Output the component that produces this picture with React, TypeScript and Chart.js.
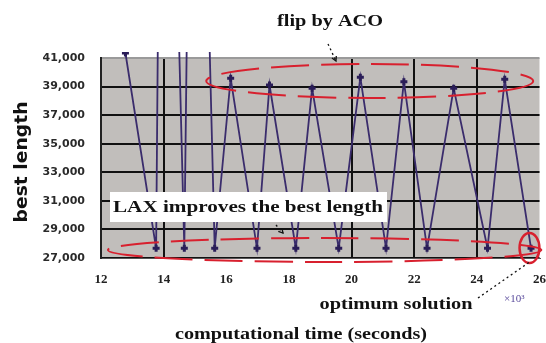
import React, { useEffect, useRef } from 'react';
import { Chart, registerables } from 'chart.js';

Chart.register(...registerables);

// computational time (x10^3 seconds) and best tour length
const timeK = [12.78, 13.76, 13.98, 14.66, 14.97, 15.63, 16.14, 16.98, 17.38, 18.22, 18.74, 19.59, 20.28, 21.1, 21.67, 22.41, 23.26, 24.34, 24.89, 25.73];
const bestLength = [41350, 27680, 86000, 27680, 85000, 27680, 39580, 27680, 39110, 27680, 38880, 27680, 39650, 27680, 39340, 27680, 38880, 27680, 39510, 27680];

const xTickValues = [12, 14, 16, 18, 20, 22, 24, 26];
const yTickValues = [27000, 29000, 31000, 33000, 35000, 37000, 39000, 41000];
const xGridShown = [14, 20, 22, 24];

const titleTop = 'flip by ACO';
const titleBox = 'LAX improves the best length';
const titleOpt = 'optimum solution';
const xTitle = 'computational time (seconds)';
const yTitle = 'best length';
const xUnit = '\u00d710\u00b3';

const RED = '#d8202e';
const LINE = '#3a2c6c';

function fitText(ctx: CanvasRenderingContext2D, text: string, cx: number, cy: number, width: number, font: string, color: string, rot = 0) {
  ctx.save();
  ctx.font = font;
  const w = ctx.measureText(text).width;
  ctx.translate(cx, cy);
  if (rot) ctx.rotate(rot);
  ctx.scale(width / w, 1);
  ctx.textAlign = 'center';
  ctx.textBaseline = 'middle';
  ctx.fillStyle = color;
  ctx.fillText(text, 0, 0);
  ctx.restore();
}

function dottedArrow(ctx: CanvasRenderingContext2D, x1: number, y1: number, x2: number, y2: number, head: number) {
  ctx.save();
  ctx.strokeStyle = '#111';
  ctx.lineWidth = 1.3;
  ctx.setLineDash([2, 3]);
  ctx.beginPath();
  ctx.moveTo(x1, y1);
  ctx.lineTo(x2, y2);
  ctx.stroke();
  ctx.setLineDash([]);
  if (head > 0) {
    const a = Math.atan2(y2 - y1, x2 - x1);
    ctx.beginPath();
    ctx.moveTo(x2 - head * Math.cos(a - 0.5), y2 - head * Math.sin(a - 0.5));
    ctx.lineTo(x2, y2);
    ctx.lineTo(x2 - head * Math.cos(a + 0.5), y2 - head * Math.sin(a + 0.5));
    ctx.stroke();
  }
  ctx.restore();
}

const bgPlugin = {
  id: 'plotBg',
  beforeDraw(chart: any) {
    const { ctx, chartArea: a } = chart;
    ctx.save();
    ctx.fillStyle = '#c1bebb';
    ctx.fillRect(a.left, a.top, a.right - a.left, a.bottom - a.top);
    ctx.restore();
  },
};

const annPlugin = {
  id: 'annotations',
  afterDraw(chart: any) {
    const { ctx } = chart;
    const xs = chart.scales.x;
    const ys = chart.scales.y;
    const px = (v: number) => xs.getPixelForValue(v);
    const py = (v: number) => ys.getPixelForValue(v);

    const ellipse = (cx: number, cy: number, rx: number, ry: number, dash: number[], lw: number) => {
      const X = px(cx), Y = py(cy);
      const RX = Math.abs(px(cx + rx) - X), RY = Math.abs(py(cy + ry) - Y);
      ctx.save();
      ctx.strokeStyle = RED;
      ctx.lineWidth = lw;
      ctx.setLineDash(dash);
      ctx.beginPath();
      ctx.ellipse(X, Y, RX, RY, 0, 0, Math.PI * 2);
      ctx.stroke();
      ctx.restore();
    };

    // dashed ellipses around peaks and troughs
    ellipse(20.58, 39390, 5.22, 1190, [38, 12], 2);
    ellipse(19.14, 27560, 6.92, 840, [38, 12], 2);

    // white label box
    ctx.save();
    ctx.fillStyle = '#ffffff';
    ctx.fillRect(110, 192, 277, 30);
    ctx.restore();
    fitText(ctx, titleBox, 248, 208, 270, 'bold 17px "Liberation Serif"', '#111');

    // top label
    fitText(ctx, titleTop, 330, 22, 106, 'bold 16px "Liberation Serif"', '#111');
    dottedArrow(ctx, 328, 44, 336, 61, 5);
    dottedArrow(ctx, 276, 225, 283, 233, 5);

    // optimum solution
    ellipse(25.68, 27700, 0.317, 1050, [], 2.5);
    fitText(ctx, titleOpt, 396, 305, 153, 'bold 16px "Liberation Serif"', '#111');
    dottedArrow(ctx, 478, 298, 531, 261, 0);
    ctx.save();
    ctx.font = '11px "Liberation Serif"';
    ctx.fillStyle = '#5a4b9c';
    ctx.textAlign = 'left';
    ctx.textBaseline = 'middle';
    ctx.fillText(xUnit, 504, 299);
    ctx.restore();

    // axis titles
    fitText(ctx, xTitle, 301, 335, 252, 'bold 17px "Liberation Serif"', '#111');
    fitText(ctx, yTitle, 23, 162, 121, 'bold 17px "DejaVu Sans"', '#111', -Math.PI / 2);
  },
};

export default function App() {
  const ref = useRef<HTMLCanvasElement | null>(null);
  useEffect(() => {
    if (!ref.current) return;
    const chart = new Chart(ref.current, {
      type: 'line',
      data: {
        datasets: [
          {
            label: 'best length',
            data: timeK.map((t, i) => ({ x: t, y: bestLength[i] })),
            borderColor: LINE,
            backgroundColor: LINE,
            borderWidth: 1.8,
            pointRadius: 3.5,
            pointStyle: 'cross',
            pointBorderWidth: 3,
            pointBorderColor: '#2a1d58',
            pointBackgroundColor: '#2a1d58',
            tension: 0,
            fill: false,
            clip: { left: 0, top: 6, right: 0, bottom: 0 } as any,
          },
        ],
      },
      options: {
        responsive: false,
        animation: false,
        devicePixelRatio: 1,
        locale: 'en-US',
        layout: { padding: { left: 0, top: 58, right: 17, bottom: 0 } },
        plugins: { legend: { display: false }, tooltip: { enabled: false } },
        scales: {
          x: {
            type: 'linear',
            min: 12,
            max: 26,
            afterBuildTicks: (s: any) => { s.ticks = xTickValues.map((v) => ({ value: v })); },
            afterFit: (s: any) => { s.height = 85; },
            ticks: {
              autoSkip: false,
              maxRotation: 0,
              padding: 14,
              color: '#222',
              font: { family: 'Liberation Serif', size: 13, weight: 'bold' },
              callback: (v: any) => String(v),
            },
            grid: {
              drawTicks: false,
              lineWidth: 2,
              color: (c: any) => (c.tick && xGridShown.includes(c.tick.value) ? '#111' : 'rgba(0,0,0,0)'),
            },
            border: { display: true, color: '#555', width: 1 },
          },
          y: {
            type: 'linear',
            min: 27000,
            max: 41000,
            afterBuildTicks: (s: any) => { s.ticks = yTickValues.map((v) => ({ value: v })); },
            afterFit: (s: any) => { s.width = 101; },
            ticks: {
              padding: 16,
              color: '#2a2a2a',
              font: { family: 'DejaVu Sans', size: 11, weight: 'bold' },
              callback: (v: any) => Number(v).toLocaleString('en-US'),
            },
            grid: {
              drawTicks: false,
              lineWidth: 2,
              color: (c: any) => (c.tick && c.tick.value === 41000 ? '#9a9a9a' : '#111'),
            },
            border: { display: true, color: '#222', width: 2 },
          },
        },
      },
      plugins: [bgPlugin, annPlugin],
    });
    return () => chart.destroy();
  }, []);

  return (
    <div style={{ position: 'fixed', left: 0, top: 0, width: 560, height: 343, background: '#fff', overflow: 'hidden' }}>
      <canvas ref={ref} width={560} height={343} style={{ display: 'block' }} />
    </div>
  );
}
